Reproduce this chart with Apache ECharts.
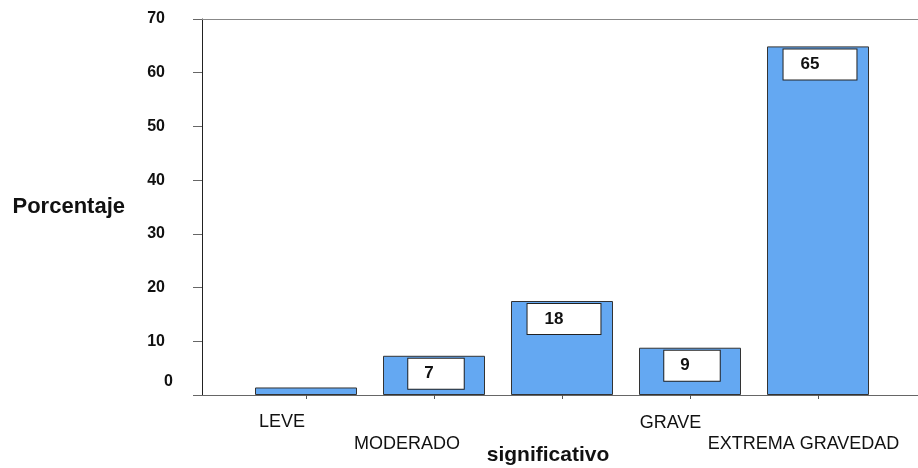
<!DOCTYPE html>
<html>
<head>
<meta charset="utf-8">
<script src="https://cdn.jsdelivr.net/npm/echarts@6/dist/echarts.min.js"></script>
<style>
html,body{margin:0;padding:0;background:#fff;}
#chart{width:918px;height:468px;}
</style>
</head>
<body>
<div id="chart"></div>
<script>
// ---- data ----
const categories = ['LEVE', 'MODERADO', 'significativo', 'GRAVE', 'EXTREMA GRAVEDAD'];
const values = [1.4, 7.3, 17.5, 8.8, 64.9];
const yAxisName = 'Porcentaje';
const yMin = 0, yMax = 70, yStep = 10;

// ---- presentation ----
const FONT = '"Liberation Sans", Arial, sans-serif';
const xLabelRich = {
  c0: {fontSize: 18, lineHeight: 18, padding: [20, 48, 0, 0]},
  c1: {fontSize: 18, lineHeight: 18, padding: [64, 54, 0, 0]},
  c2: {fontSize: 21, lineHeight: 21, fontWeight: 'bold', padding: [84, 28, 0, 0]},
  c3: {fontSize: 18, lineHeight: 18, padding: [23, 39, 0, 0]},
  c4: {fontSize: 18, lineHeight: 18, padding: [65, 29, 0, 0]}
};
Object.values(xLabelRich).forEach(s => { s.fontFamily = FONT; s.color = '#111'; });

const barData = values.map(v => {
  const txt = String(Math.round(v));
  const pad = txt.length > 1 ? [6, 37, 6, 17] : [6, 30, 6, 16];
  return {
    value: v,
    label: {show: v >= 2, padding: pad, offset: [2, 0]}
  };
});

const chart = echarts.init(document.getElementById('chart'), null, {renderer: 'canvas'});
chart.setOption({
  animation: false,
  backgroundColor: '#fff',
  grid: [
    {left: 202, right: 0, top: 19, height: 376, outerBoundsMode: 'none'},
    {left: 242, width: 640, top: 19, height: 376, outerBoundsMode: 'none'}
  ],
  xAxis: [
    {gridIndex: 0, type: 'value', min: 0, max: 1, position: 'bottom',
      axisLine: {show: true, lineStyle: {color: '#666', width: 1}},
      axisTick: {show: false}, axisLabel: {show: false}, splitLine: {show: false}},
    {gridIndex: 0, type: 'value', min: 0, max: 1, position: 'top',
      axisLine: {show: true, lineStyle: {color: '#888', width: 1}},
      axisTick: {show: false}, axisLabel: {show: false}, splitLine: {show: false}},
    {gridIndex: 1, type: 'category', data: categories, position: 'bottom',
      axisLine: {show: false},
      axisTick: {show: true, alignWithLabel: true, length: 4, lineStyle: {color: '#555'}},
      axisLabel: {
        margin: 8, interval: 0, verticalAlign: 'top', hideOverlap: false,
        formatter: (v, i) => '{c' + i + '|' + v + '}',
        rich: xLabelRich
      },
      splitLine: {show: false}}
  ],
  yAxis: [
    {gridIndex: 0, type: 'value', min: yMin, max: yMax, interval: yStep,
      name: yAxisName, nameLocation: 'middle', nameRotate: 0, nameGap: 77,
      nameTextStyle: {fontFamily: FONT, fontSize: 22, fontWeight: 'bold', color: '#111', align: 'right', verticalAlign: 'middle'},
      axisLine: {show: true, lineStyle: {color: '#222', width: 1}},
      axisTick: {show: true, length: 9, lineStyle: {color: '#666'}},
      axisLabel: {
        margin: 29, align: 'right',
        formatter: v => v === 0 ? '{z|0}' : '{n|' + v + '}',
        rich: {
          n: {fontFamily: FONT, fontSize: 16, fontWeight: 'bold', color: '#111', padding: [0, 8, 0, 0]},
          z: {fontFamily: FONT, fontSize: 16, fontWeight: 'bold', color: '#111', padding: [0, 0, 26, 0]}
        }
      },
      splitLine: {show: false}},
    {gridIndex: 1, type: 'value', min: yMin, max: yMax, interval: yStep, show: false}
  ],
  series: [{
    type: 'bar',
    xAxisIndex: 2,
    yAxisIndex: 1,
    barWidth: 102,
    data: barData,
    itemStyle: {color: '#64a8f2', borderColor: '#333', borderWidth: 1},
    label: {
      show: true,
      position: 'insideTop',
      distance: 3,
      formatter: p => String(Math.round(p.value)),
      fontFamily: FONT, fontSize: 17, fontWeight: 'bold', color: '#111',
      lineHeight: 18,
      backgroundColor: '#fff',
      borderColor: '#222', borderWidth: 1
    }
  }]
});
</script>
</body>
</html>
